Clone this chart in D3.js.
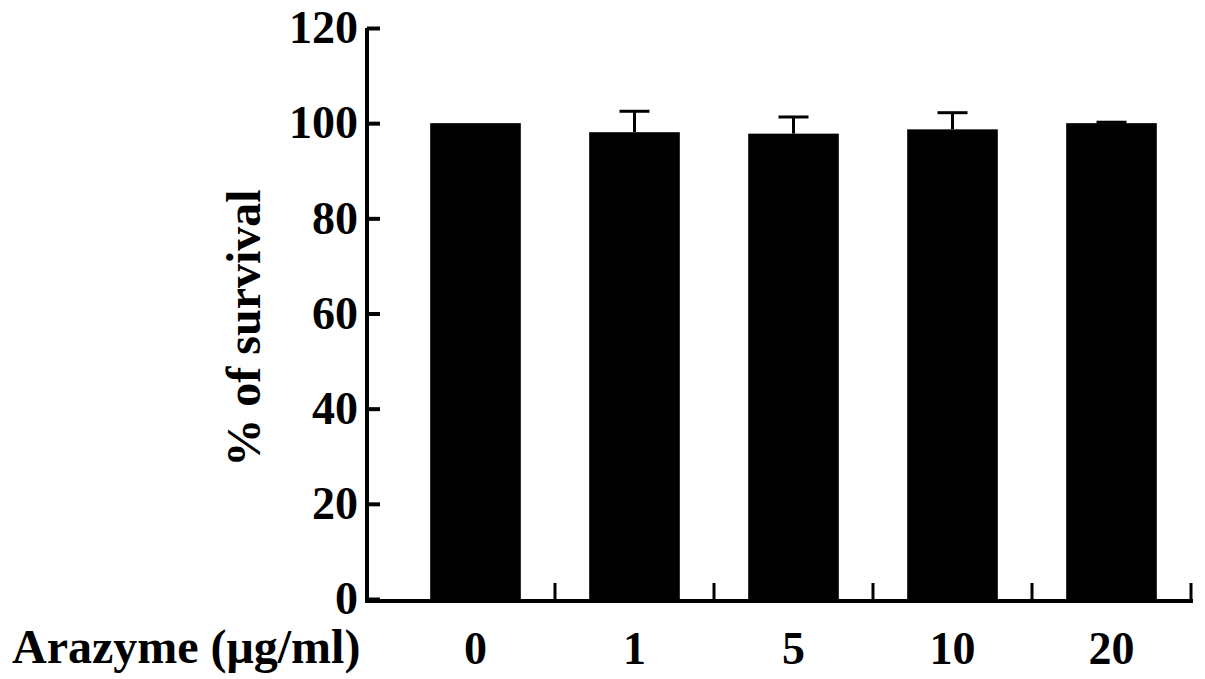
<!DOCTYPE html>
<html>
<head>
<meta charset="utf-8">
<script src="https://d3js.org/d3.v7.min.js"></script>
<style>
  body { margin: 0; background: #fff; }
  text { font-family: "Liberation Serif", "Times New Roman", serif; font-weight: bold; fill: #000; }
</style>
</head>
<body>
<script>
// data
var doses = ["0", "1", "5", "10", "20"];
var survival = [100, 98.1, 97.8, 98.7, 100];
var errors = [0, 4.4, 3.5, 3.5, 0.2];
var yTicks = [0, 20, 40, 60, 80, 100, 120];

var w = 1205, h = 679;
var axisX = 367;     // y axis position
var axisY = 601;     // x axis position

var svg = d3.select("body").append("svg")
  .attr("width", w)
  .attr("height", h);

// scales
var x = d3.scaleBand()
  .domain(doses)
  .range([396, 1191])
  .paddingInner(0.43)
  .paddingOuter(0.215);

var y = d3.scaleLinear()
  .domain([0, 120])
  .range([599, 28]);

var data = doses.map(function(d, i) {
  return { dose: d, mean: survival[i], err: errors[i] };
});

// bars
svg.selectAll("rect.bar")
  .data(data)
  .enter()
  .append("rect")
  .attr("class", "bar")
  .attr("x", function(d) { return x(d.dose); })
  .attr("width", x.bandwidth())
  .attr("y", function(d) { return y(d.mean); })
  .attr("height", function(d) { return y(0) - y(d.mean); })
  .attr("fill", "#000");

// error bars (upper half only)
var capW = 30;
var eb = svg.selectAll("g.err")
  .data(data.filter(function(d) { return d.err > 0; }))
  .enter()
  .append("g")
  .attr("class", "err");
eb.append("line")
  .attr("x1", function(d) { return x(d.dose) + x.bandwidth() / 2; })
  .attr("x2", function(d) { return x(d.dose) + x.bandwidth() / 2; })
  .attr("y1", function(d) { return y(d.mean); })
  .attr("y2", function(d) { return y(d.mean + d.err); })
  .attr("stroke", "#000").attr("stroke-width", 3);
eb.append("line")
  .attr("x1", function(d) { return x(d.dose) + x.bandwidth() / 2 - capW / 2; })
  .attr("x2", function(d) { return x(d.dose) + x.bandwidth() / 2 + capW / 2; })
  .attr("y1", function(d) { return y(d.mean + d.err); })
  .attr("y2", function(d) { return y(d.mean + d.err); })
  .attr("stroke", "#000").attr("stroke-width", 3);

// y axis, ticks pointing inward
var yAxis = d3.axisLeft(y)
  .tickValues(yTicks)
  .tickSizeInner(-13)
  .tickSizeOuter(0)
  .tickPadding(9);

var gy = svg.append("g")
  .attr("transform", "translate(" + axisX + ",0)")
  .call(yAxis);
gy.select(".domain").attr("stroke", "#000").attr("stroke-width", 4);
gy.selectAll(".tick line").attr("stroke", "#000").attr("stroke-width", 4);
gy.selectAll(".tick text")
  .attr("font-family", null)
  .attr("font-size", null)
  .style("font-size", "46px");
gy.select(".domain").attr("d", "M0," + y(120) + "V" + (axisY + 2));

// x axis line
svg.append("line")
  .attr("x1", axisX - 2)
  .attr("x2", x.range()[1] + 2)
  .attr("y1", axisY)
  .attr("y2", axisY)
  .attr("stroke", "#000")
  .attr("stroke-width", 4);

// x ticks at the band boundaries, pointing up
var boundaries = doses.map(function(d) {
  return x(d) + x.bandwidth() + (x.step() - x.bandwidth()) / 2;
});
svg.selectAll("line.xtick")
  .data(boundaries)
  .enter()
  .append("line")
  .attr("class", "xtick")
  .attr("x1", function(d) { return d; })
  .attr("x2", function(d) { return d; })
  .attr("y1", axisY)
  .attr("y2", axisY - 18)
  .attr("stroke", "#000")
  .attr("stroke-width", 3);

// x labels
var xAxis = d3.axisBottom(x).tickSize(0).tickPadding(0);
var gx = svg.append("g")
  .attr("transform", "translate(0," + axisY + ")")
  .call(xAxis);
gx.select(".domain").remove();
gx.selectAll(".tick text")
  .attr("font-family", null)
  .attr("font-size", null)
  .attr("dy", null)
  .attr("y", 63)
  .style("font-size", "46px");

// axis titles
svg.append("text")
  .attr("x", 12)
  .attr("y", 663)
  .style("font-size", "48px")
  .text("Arazyme (\u03bcg/ml)");

svg.append("text")
  .attr("transform", "translate(260,328) rotate(-90)")
  .style("text-anchor", "middle")
  .style("font-size", "48px")
  .text("% of survival");
</script>
</body>
</html>
